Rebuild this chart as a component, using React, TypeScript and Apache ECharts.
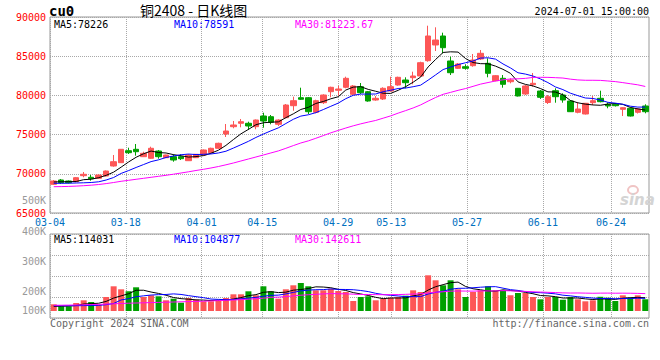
import React, { useEffect, useRef } from 'react';
import * as echarts from 'echarts';

const dates = [
  '03-04','03-05','03-06','03-07','03-08','03-11','03-12','03-13','03-14','03-15',
  '03-18','03-19','03-20','03-21','03-22','03-25','03-26','03-27','03-28','03-29',
  '04-01','04-02','04-03','04-08','04-09','04-10','04-11','04-12','04-15','04-16',
  '04-17','04-18','04-19','04-22','04-23','04-24','04-25','04-26','04-29','04-30',
  '05-06','05-07','05-08','05-09','05-10','05-13','05-14','05-15','05-16','05-17',
  '05-20','05-21','05-22','05-23','05-24','05-27','05-28','05-29','05-30','05-31',
  '06-03','06-04','06-05','06-06','06-07','06-11','06-12','06-13','06-14','06-17',
  '06-18','06-19','06-20','06-21','06-24','06-25','06-26','06-27','06-28','07-01'
];

const openP = [
  68661,69210,69082,68993,69758,69554,69426,69720,70995,71416,
  72947,73125,72181,71977,72908,72054,72181,72181,71671,72054,
  72398,72692,73253,75077,76008,76442,76442,76008,77372,77283,
  76314,77156,78687,79707,79707,77844,79069,80472,80651,81033,
  80140,81110,80472,79413,79541,80561,81327,81964,82258,82475,
  84426,86429,87577,84388,83457,83661,83788,84643,84094,81875,
  82181,81747,80906,80179,81365,80561,79094,80600,80051,79286,
  77844,77628,79069,79630,78865,78865,78227,78355,77844,78648
];
const closeP = [
  69082,68866,68866,69503,69937,69375,69847,70357,71543,73125,
  72692,72819,72615,73253,72181,72398,71760,71926,72398,72487,
  73036,73253,73890,75459,76225,76646,76097,76862,76735,76569,
  76862,78776,79324,79503,77921,79324,80051,81033,80816,82181,
  81199,80345,79286,79630,80906,81110,82309,81620,82475,84171,
  87577,87066,86084,82895,84005,83457,84515,85370,82819,82513,
  81416,81964,79924,81199,81543,79758,79834,79834,79413,77921,
  78265,78993,79324,79197,78648,78686,78431,77372,78265,77921
];
const lowP = [
  68572,68700,68764,68917,69554,69120,69363,69656,70906,71378,
  72526,72309,72143,71888,71926,72016,71543,71760,71633,72016,
  72334,72615,73202,74694,75804,75931,75587,75676,75880,76314,
  76097,77079,78048,79414,77628,77717,78903,79758,79962,80906,
  80051,80179,79197,79324,79413,80472,81237,80906,81416,82385,
  84299,85663,85370,82602,83367,83278,83661,84515,82309,81799,
  80982,81543,79860,80051,81110,79541,78903,79069,79069,77883,
  77717,77564,78776,79120,78355,78584,77372,77309,77691,77717
];
const highP = [
  69210,69337,69146,69592,70230,69847,69911,70421,72398,73163,
  73329,73801,72819,73457,73036,72436,72487,72487,72526,72526,
  73100,73329,73967,76352,76735,76990,76646,76926,77793,77500,
  76952,78903,79834,80982,79796,79452,80140,81110,81237,82385,
  81327,81582,80561,79923,81033,82385,82385,82309,83023,84299,
  88890,88686,88000,84936,84133,83967,85281,85791,84732,82602,
  82602,82181,80944,81327,82857,80689,80051,80906,80268,79413,
  79120,79031,79923,80600,79120,79031,78482,78457,78393,78865
];
const volumes = [
  55600,39000,39000,66400,88800,74700,52300,116200,205000,180100,
  163500,196700,116200,130300,122000,88800,102100,68900,107900,93800,
  80500,80500,88800,107900,138600,138600,163500,130300,205000,163500,
  102100,180100,213300,232400,205000,171800,171800,185100,166000,157700,
  83000,116200,122000,88800,102100,110400,116200,127000,171800,157700,
  296300,254800,213300,254800,180100,116200,157700,171800,205000,171800,
  171800,130300,149400,149400,116200,97100,116200,116200,93800,116200,
  97100,80500,88800,117900,110400,83000,130300,110400,130300,97100
];

// moving-average values at the start of the window
const ma5Warm = [68955, 68980, 68993, 69018];
const ma10Warm = [68788, 68788, 68801, 68827, 68852, 68890, 68980, 69209, 69528];
const ma30Warm = [
  68355,68367,68393,68431,68482,68546,68635,68750,68890,69044,
  69171,69299,69426,69554,69681,69809,69949,70102,70255,70421,
  70574,70740,70931,71148,71378,71633,71888,72143,72398
];
const vma5Warm = [39000, 39800, 41500, 45700];
const vma10Warm = [44000, 44000, 44000, 44000, 44800, 45700, 47300, 52300, 62300];
const vma30Warm = [
  47300,48100,49000,49800,51500,53100,54800,57300,59800,62300,
  64700,66400,68100,69700,71400,73000,74700,76400,78000,79700,
  81300,83800,86300,88800,91300,94600,97900,102100,106200
];

const dateTicks = ['03-04','03-18','04-01','04-15','04-29','05-13','05-27','06-11','06-24'];
const volTickLabels = ['500K', '400K', '300K', '200K', '100K'];
const mainLegend = ['MA5:78226', 'MA10:78591', 'MA30:81223.67'];
const volLegend = ['MA5:114031', 'MA10:104877', 'MA30:142611'];
const titleText = '铜2408 - 日K线图';
const symbolText = 'cu0';
const timeText = '2024-07-01 15:00:00';
const copyrightText = 'Copyright 2024 SINA.COM';
const urlText = 'http://finance.sina.com.cn';

const RED = '#fd5656';
const GREEN = '#00a000';
const MA_COLORS = ['#000000', '#0000ff', '#ff00ff'];
const MONO = '"DejaVu Sans Mono", monospace';

function movingAvg(vals: number[], n: number, warm: number[]) {
  return vals.map((_, i) => {
    if (i < n - 1) return warm[i];
    let s = 0;
    for (let k = i - n + 1; k <= i; k++) s += vals[k];
    return +(s / n).toFixed(2);
  });
}

function txt(text: string, x: number, y: number, fill: string, size = 10, align = 'left', weight = 'normal', family = MONO) {
  return {
    type: 'text', x, y, silent: true, z: 100,
    style: {
      text, fill, font: `${weight} ${size}px ${family}`,
      align, textAlign: align, verticalAlign: 'middle', textVerticalAlign: 'middle'
    }
  };
}

export default function App() {
  const ref = useRef<HTMLDivElement>(null);
  useEffect(() => {
    if (!ref.current) return;
    const chart = echarts.init(ref.current, null, { renderer: 'svg' });
    const candles = dates.map((_, i) => [openP[i], closeP[i], lowP[i], highP[i]]);
    const ma5 = movingAvg(closeP, 5, ma5Warm);
    const ma10 = movingAvg(closeP, 10, ma10Warm);
    const ma30 = movingAvg(closeP, 30, ma30Warm);
    const vma5 = movingAvg(volumes, 5, vma5Warm);
    const vma10 = movingAvg(volumes, 10, vma10Warm);
    const vma30 = movingAvg(volumes, 30, vma30Warm);
    const isTick = (_i: number, v: string) => dateTicks.indexOf(v) >= 0;
    const dotted = { type: 'dotted', color: '#a8a8a8', width: 1 };
    const lineS = (name: string, data: number[], color: string, xi: number, yi: number) => ({
      name, type: 'line', data, xAxisIndex: xi, yAxisIndex: yi, symbol: 'none',
      lineStyle: { color, width: 1 }, z: 5
    });

    const graphics: any[] = [
      txt(symbolText, 49, 11, '#000', 14, 'left', 'bold'),
      txt(titleText, 140, 10, '#000', 14, 'left', 'normal', '"Noto Sans CJK SC", sans-serif'),
      txt(timeText, 649, 11, '#000', 10, 'right'),
      txt(mainLegend[0], 54, 24, MA_COLORS[0]),
      txt(mainLegend[1], 174, 24, MA_COLORS[1]),
      txt(mainLegend[2], 295, 24, MA_COLORS[2]),
      txt(volLegend[0], 54, 239, MA_COLORS[0]),
      txt(volLegend[1], 174, 239, MA_COLORS[1]),
      txt(volLegend[2], 295, 239, MA_COLORS[2]),
      txt(volTickLabels[0], 46, 200, '#999', 10, 'right'),
      txt(volTickLabels[1], 46, 231, '#999', 10, 'right'),
      txt(volTickLabels[2], 46, 261, '#999', 10, 'right'),
      txt(volTickLabels[3], 46, 291, '#999', 10, 'right'),
      txt(volTickLabels[4], 46, 310, '#999', 10, 'right'),
      txt(copyrightText, 50, 323, '#666'),
      txt(urlText, 649, 323, '#666', 10, 'right'),
      { type: 'ellipse', silent: true, z: 1, shape: { cx: 633, cy: 190, rx: 5, ry: 4 },
        style: { fill: 'none', stroke: '#f0c4c4', lineWidth: 2 } },
      txt('sina', 620, 200, '#d4d4d4', 15, 'left', 'italic bold', 'Verdana, "DejaVu Sans", sans-serif')
    ];

    chart.setOption({
      animation: false,
      backgroundColor: '#fff',
      grid: [
        { left: 50, right: 11, top: 17, height: 196, show: true, borderColor: '#999', borderWidth: 1 },
        { left: 50, right: 11, top: 234, height: 84, show: true, borderColor: '#999', borderWidth: 1 }
      ],
      xAxis: [
        { type: 'category', gridIndex: 0, data: dates, boundaryGap: true,
          axisLabel: { show: false }, axisTick: { show: false }, axisLine: { show: false }, splitLine: { show: false } },
        { type: 'category', gridIndex: 0, data: dates, boundaryGap: false, position: 'bottom',
          axisLabel: { show: true, interval: isTick, color: '#0070c0', fontFamily: MONO, fontSize: 10, margin: 4 },
          axisTick: { show: false }, axisLine: { show: false },
          splitLine: { show: true, interval: isTick, lineStyle: dotted } },
        { type: 'category', gridIndex: 1, data: dates, boundaryGap: true,
          axisLabel: { show: false }, axisTick: { show: false }, axisLine: { show: false }, splitLine: { show: false } },
        { type: 'category', gridIndex: 1, data: dates, boundaryGap: false,
          axisLabel: { show: false }, axisTick: { show: false }, axisLine: { show: false },
          splitLine: { show: true, interval: isTick, lineStyle: dotted } }
      ],
      yAxis: [
        { type: 'value', gridIndex: 0, min: 65000, max: 90000, interval: 5000,
          axisLabel: { color: '#ff0000', fontFamily: MONO, fontSize: 10, margin: 4,
            formatter: (v: number) => String(v) },
          axisLine: { show: false }, axisTick: { show: false },
          splitLine: { show: true, lineStyle: dotted } },
        { type: 'value', gridIndex: 1, min: -58100, max: 639100, interval: 174300,
          axisLabel: { show: false }, axisLine: { show: false }, axisTick: { show: false },
          splitLine: { show: true, lineStyle: dotted } }
      ],
      series: [
        { name: 'K', type: 'candlestick', data: candles, xAxisIndex: 0, yAxisIndex: 0, barWidth: 6,
          itemStyle: { color: RED, color0: GREEN, borderColor: RED, borderColor0: GREEN, borderWidth: 1 }, z: 3 },
        lineS('MA5', ma5, MA_COLORS[0], 0, 0),
        lineS('MA10', ma10, MA_COLORS[1], 0, 0),
        lineS('MA30', ma30, MA_COLORS[2], 0, 0),
        { name: 'VOL', type: 'bar', xAxisIndex: 2, yAxisIndex: 1, barWidth: 6, z: 3,
          data: volumes.map((v, i) => ({ value: v, itemStyle: { color: closeP[i] >= openP[i] ? RED : GREEN } })) },
        lineS('VMA5', vma5, MA_COLORS[0], 2, 1),
        lineS('VMA10', vma10, MA_COLORS[1], 2, 1),
        lineS('VMA30', vma30, MA_COLORS[2], 2, 1)
      ],
      graphic: graphics
    });
    return () => chart.dispose();
  }, []);
  return <div ref={ref} style={{ position: 'fixed', left: 0, top: 0, width: 660, height: 360, background: '#fff' }} />;
}
